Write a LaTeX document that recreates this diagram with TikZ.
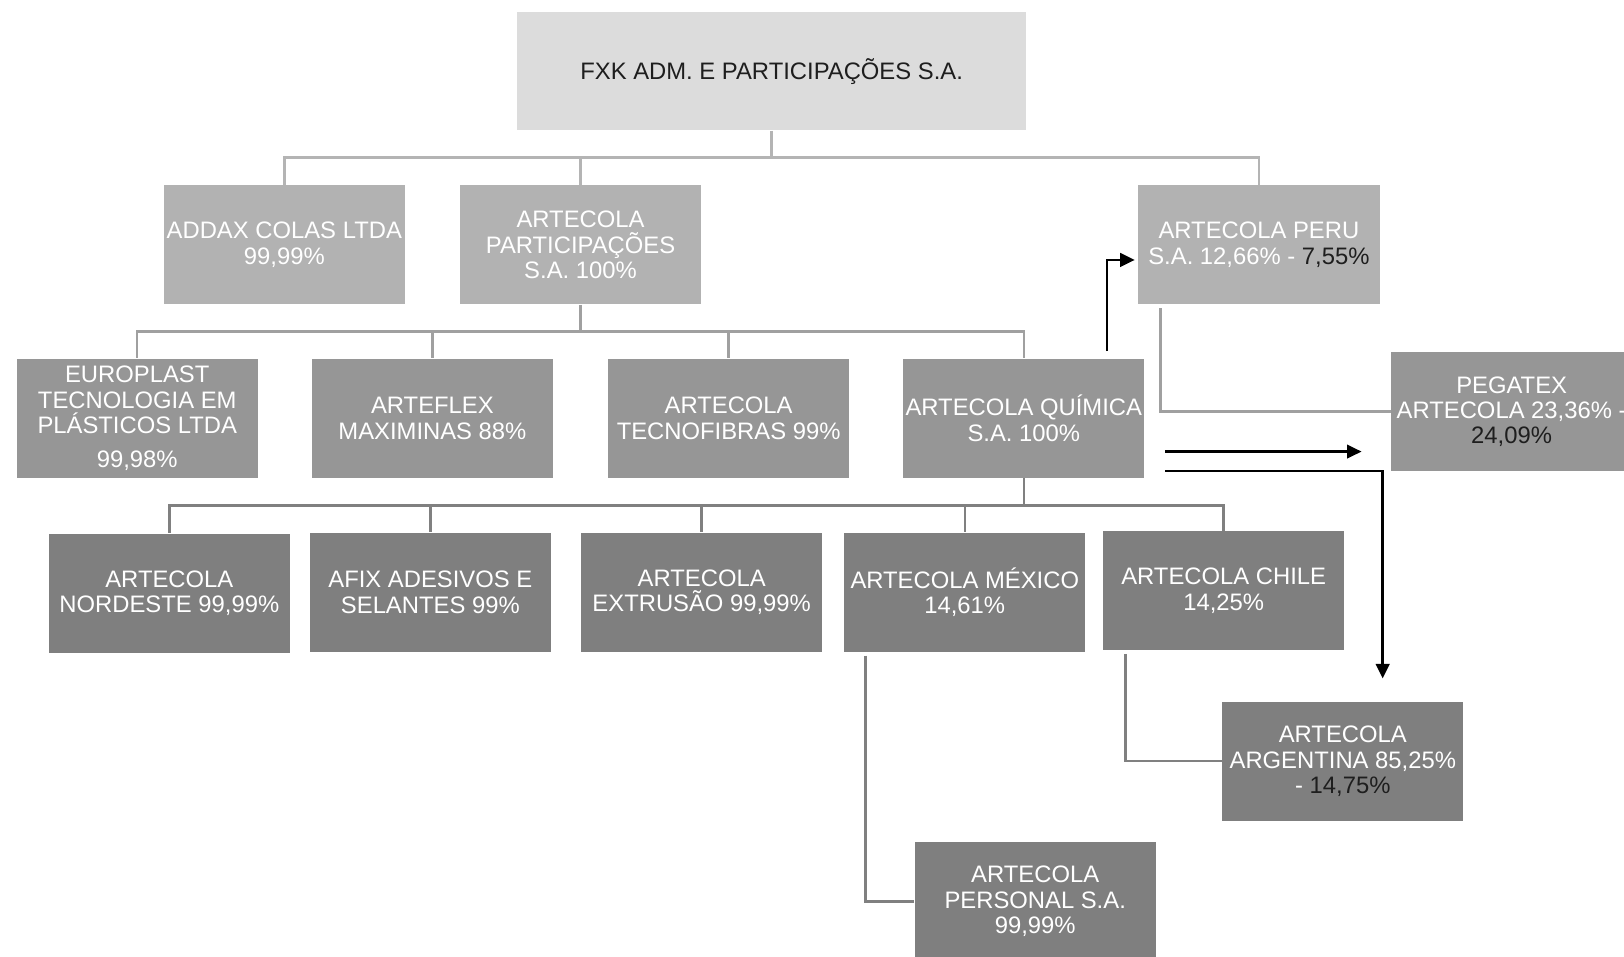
\documentclass[tikz,border=0pt]{standalone}
\usepackage{fontspec}
\setmainfont{Liberation Sans}
\usetikzlibrary{arrows.meta}
\definecolor{fillA}{HTML}{DCDCDC}
\definecolor{fillB}{HTML}{B2B2B2}
\definecolor{fillC}{HTML}{969696}
\definecolor{fillD}{HTML}{7F7F7F}
\definecolor{darktxt}{HTML}{1E1E1E}
\definecolor{lineA}{HTML}{B4B4B4}
\definecolor{lineB}{HTML}{A0A0A0}
\definecolor{lineC}{HTML}{808080}
\begin{document}
\begin{tikzpicture}[x=0.5pt,y=-0.5pt,
  box/.style={rectangle, minimum width=116.5pt, minimum height=57.5pt, inner sep=0pt, align=center, text=white, font=\fontsize{11.5}{12.3}\selectfont},
  lvA/.style={box, fill=fillA, text=darktxt, minimum width=246pt, minimum height=57pt},
  lvB/.style={box, fill=fillB},
  lvC/.style={box, fill=fillC},
  lvD/.style={box, fill=fillD},
  conA/.style={draw=lineA, line width=1.2pt},
  conB/.style={draw=lineB, line width=1.2pt},
  conC/.style={draw=lineC, line width=1.2pt},
  arr/.style={draw=black, line width=1.2pt, -{Triangle[length=7pt,width=6.5pt]}}]
\useasboundingbox (0,0) rectangle (1568,924);
\fill[white] (0,0) rectangle (1568,924);

\node[lvA] (fxk) at (745,69) {FXK ADM. E PARTICIPAÇÕES S.A.};

\node[lvB] (addax) at (274.5,236.5) {ADDAX COLAS LTDA\\99,99\%};
\node[lvB] (part) at (560.5,236.5) {ARTECOLA\\PARTICIPAÇÕES\\S.A. 100\%};
\node[lvB] (peru) at (1215.5,236.5) {ARTECOLA PERU\\S.A. 12,66\% - \textcolor{darktxt}{7,55\%}};

\node[lvC] (euro) at (132.5,404) {EUROPLAST\\TECNOLOGIA EM\\PLÁSTICOS LTDA\\[4pt]99,98\%};
\node[lvC] (flex) at (417.5,404) {ARTEFLEX\\MAXIMINAS 88\%};
\node[lvC] (tecno) at (703.5,404) {ARTECOLA\\TECNOFIBRAS 99\%};
\node[lvC] (quim) at (988.5,404) {ARTECOLA QUÍMICA\\S.A. 100\%};
\node[lvC] (pega) at (1459.5,397.5) {PEGATEX\\ARTECOLA 23,36\% -\\\textcolor{darktxt}{24,09\%}};

\node[lvD] (nord) at (163.5,573) {ARTECOLA\\NORDESTE 99,99\%};
\node[lvD] (afix) at (415.5,572) {AFIX ADESIVOS E\\SELANTES 99\%};
\node[lvD] (extr) at (677.5,572) {ARTECOLA\\EXTRUSÃO 99,99\%};
\node[lvD] (mex) at (931.5,572) {ARTECOLA MÉXICO\\14,61\%};
\node[lvD] (chile) at (1181.5,570.5) {ARTECOLA CHILE\\14,25\%};
\node[lvD] (arg) at (1296.5,735) {ARTECOLA\\ARGENTINA 85,25\%\\- \textcolor{darktxt}{14,75\%}};
\node[lvD] (pers) at (999.5,870.5) {ARTECOLA\\PERSONAL S.A.\\99,99\%};

% buses
\coordinate (bus1) at (0,152);
\coordinate (bus2) at (0,320);
\coordinate (bus3) at (0,488);

\draw[conA] (fxk.south) -- (fxk.south |- bus1) -| (addax.north);
\draw[conA] (fxk.south |- bus1) -| (part.north);
\draw[conA] (fxk.south |- bus1) -| (peru.north);

\draw[conB] (part.south) -- (part.south |- bus2) -| (euro.north);
\draw[conB] (part.south |- bus2) -| (flex.north);
\draw[conB] (part.south |- bus2) -| (tecno.north);
\draw[conB] (part.south |- bus2) -| (quim.north);

\draw[conC] (quim.south) -- (quim.south |- bus3) -| (nord.north);
\draw[conC] (quim.south |- bus3) -| (afix.north);
\draw[conC] (quim.south |- bus3) -| (extr.north);
\draw[conC] (quim.south |- bus3) -| (mex.north);
\draw[conC] (quim.south |- bus3) -| (chile.north);

\draw[conB] ([xshift=11pt,yshift=-1.5pt]peru.south west) |- (pega.west);
\draw[conC] ([xshift=11pt,yshift=-1.5pt]chile.south west) |- (arg.west);
\draw[conC] ([xshift=10.5pt,yshift=-1.5pt]mex.south west) |- (pers.west);

% black arrows
\coordinate (a0) at (1069,339);
\coordinate (b0) at (1125,436);
\coordinate (c0) at (1125,455);
\draw[arr, shorten >=1.5pt] (a0) |- ([yshift=-7.25pt]peru.west);
\draw[arr, shorten >=14pt] (b0) -- (b0 -| pega.west);
\draw[arr, shorten >=11pt] (c0) -| ([xshift=19.25pt]arg.north);
\end{tikzpicture}
\end{document}
